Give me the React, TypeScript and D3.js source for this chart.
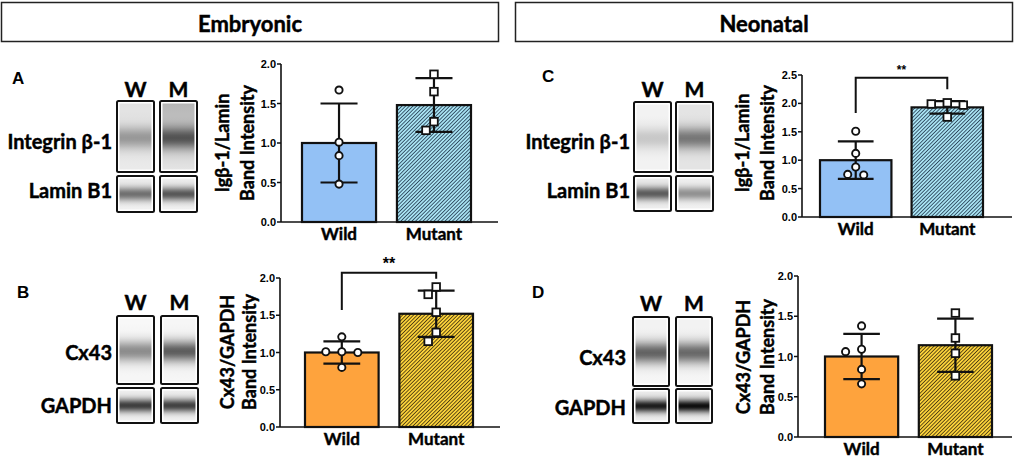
import React from "react";
import * as d3 from "d3";

// ---------- data ----------
const categories = ["Wild", "Mutant"];
const laneLabels = ["W", "M"];
const headers = ["Embryonic", "Neonatal"];
const panelLetters = ["A", "B", "C", "D"];

const aWildPoints = [1.67, 1.01, 0.84, 0.48];
const aMutantPoints = [1.87, 1.65, 1.27, 1.16];
const aMeans = [1.0, 1.48];
const aSD = [0.5, 0.34];

const bWildPoints = [1.21, 1.01, 1.01, 1.0, 0.8];
const bMutantPoints = [1.88, 1.78, 1.54, 1.27, 1.15];
const bMeans = [1.0, 1.52];
const bSD = [0.15, 0.31];

const cWildPoints = [1.51, 1.12, 0.88, 0.75, 0.74];
const cMutantPoints = [2.01, 1.99, 1.97, 1.76];
const cMeans = [1.0, 1.93];
const cSD = [0.33, 0.11];

const dWildPoints = [1.38, 1.09, 1.06, 0.84, 0.66];
const dMutantPoints = [1.54, 1.23, 1.04, 0.76];
const dMeans = [1.0, 1.14];
const dSD = [0.28, 0.33];

const yMax12 = 2.0;
const yMax3 = 2.5;
const tickStep = 0.5;

// significance brackets: [top, left foot, right foot]
const bBracket = [2.07, 1.57, 1.99];
const cBracket = [2.45, 1.83, 2.25];
const sigLabel = "**";

const integrinTitle = ["Igβ-1/Lamin", "Band Intensity"];
const cx43Title = ["Cx43/GAPDH", "Band Intensity"];
const integrinBlots = ["Integrin β-1", "Lamin B1"];
const cx43Blots = ["Cx43", "GAPDH"];

// blot grey levels per lane: [top, band, bottom]
const aTargetGray = [[226, 152, 234], [182, 82, 228]];
const aControlGray = [[238, 112, 242], [238, 88, 242]];
const bTargetGray = [[248, 140, 246], [246, 92, 246]];
const bControlGray = [[240, 62, 242], [240, 66, 242]];
const cTargetGray = [[242, 200, 242], [228, 118, 228]];
const cControlGray = [[236, 92, 240], [240, 145, 242]];
const dTargetGray = [[242, 98, 246], [242, 104, 246]];
const dControlGray = [[236, 28, 240], [236, 14, 240]];

// ---------- styles ----------
const FONT = "Lato, 'Open Sans', sans-serif";
const TICKFONT = "'Liberation Sans', Arial, sans-serif";
const BLUE = "#93c1f5";
const ORANGE = "#fea33d";
const boldStroke = { stroke: "#000", strokeWidth: 0.45, paintOrder: "stroke" } as const;

type Layout = {
  letterX: number; letterY: number;
  laneX: number[]; laneW: number; targetY: number[]; controlY: number[];
  laneY: number; labelRight: number; labelY: number[];
  axisX: number; axisEnd: number; y0: number; yTop: number;
  barRange: number[]; titleX: number[]; titleY: number;
};

type Panel = {
  id: string; letter: string; layout: Layout;
  means: number[]; sd: number[]; points: number[][]; yMax: number;
  title: string[]; blotLabels: string[];
  targetGray: number[][]; controlGray: number[][];
  bracket: number[] | null; fill: string; hatchId: string;
};

const panels: Panel[] = [
  {
    id: "a", letter: panelLetters[0],
    layout: { letterX: 12, letterY: 84, laneX: [117, 160], laneW: 37, targetY: [101, 172], controlY: [176, 212],
      laneY: 97, labelRight: 112, labelY: [149, 198], axisX: 281, axisEnd: 498, y0: 222, yTop: 64,
      barRange: [302, 471], titleX: [222, 247], titleY: 143 },
    means: aMeans, sd: aSD, points: [aWildPoints, aMutantPoints], yMax: yMax12,
    title: integrinTitle, blotLabels: integrinBlots, targetGray: aTargetGray, controlGray: aControlGray,
    bracket: null, fill: BLUE, hatchId: "hatchBlue",
  },
  {
    id: "b", letter: panelLetters[1],
    layout: { letterX: 17, letterY: 298, laneX: [117, 161], laneW: 37, targetY: [316, 384], controlY: [388, 423],
      laneY: 310, labelRight: 112, labelY: [360, 413], axisX: 280, axisEnd: 500, y0: 427, yTop: 278,
      barRange: [305, 473], titleX: [227, 249], titleY: 352 },
    means: bMeans, sd: bSD, points: [bWildPoints, bMutantPoints], yMax: yMax12,
    title: cx43Title, blotLabels: cx43Blots, targetGray: bTargetGray, controlGray: bControlGray,
    bracket: bBracket, fill: ORANGE, hatchId: "hatchOrange",
  },
  {
    id: "c", letter: panelLetters[2],
    layout: { letterX: 542, letterY: 82, laneX: [634, 676], laneW: 37, targetY: [102, 172], controlY: [176, 211],
      laneY: 97, labelRight: 630, labelY: [149, 198], axisX: 802, axisEnd: 1012, y0: 217, yTop: 75,
      barRange: [820, 983], titleX: [742, 767], titleY: 143 },
    means: cMeans, sd: cSD, points: [cWildPoints, cMutantPoints], yMax: yMax3,
    title: integrinTitle, blotLabels: integrinBlots, targetGray: cTargetGray, controlGray: cControlGray,
    bracket: cBracket, fill: BLUE, hatchId: "hatchBlue",
  },
  {
    id: "d", letter: panelLetters[3],
    layout: { letterX: 532, letterY: 298, laneX: [633, 676], laneW: 36, targetY: [317, 386], controlY: [389, 423],
      laneY: 311, labelRight: 626, labelY: [365, 415], axisX: 798, axisEnd: 1012, y0: 437, yTop: 276,
      barRange: [825, 992], titleX: [743, 767], titleY: 357 },
    means: dMeans, sd: dSD, points: [dWildPoints, dMutantPoints], yMax: yMax12,
    title: cx43Title, blotLabels: cx43Blots, targetGray: dTargetGray, controlGray: dControlGray,
    bracket: null, fill: ORANGE, hatchId: "hatchOrange",
  },
];

function grayStops(g: number[], center: number, sigma: number) {
  const [top, band, bottom] = g;
  return d3.range(0, 1.0001, 0.04).map((t) => {
    const base = top + (bottom - top) * t;
    const w = Math.exp(-((t - center) ** 2) / (2 * sigma * sigma));
    const v = Math.round(base - (base - band) * w);
    return { offset: t, color: `rgb(${v},${v},${v})` };
  });
}

function swarm(values: number[], y: d3.ScaleLinear<number, number>, step: number, minDist: number) {
  const placed: { x: number; y: number }[] = [];
  return values.map((v) => {
    const py = y(v);
    const candidates = [0, -step, step, -2 * step, 2 * step];
    let off = 0;
    for (const c of candidates) {
      if (placed.every((p) => Math.hypot(p.x - c, p.y - py) >= minDist)) { off = c; break; }
    }
    placed.push({ x: off, y: py });
    return { v, off };
  });
}

function Blot({ p }: { p: Panel }) {
  const L = p.layout;
  const rows = [
    { y: L.targetY, gray: p.targetGray, center: 0.52, sigma: 0.12, key: "t" },
    { y: L.controlY, gray: p.controlGray, center: 0.5, sigma: 0.16, key: "c" },
  ];
  return (
    <g>
      <defs>
        {rows.map((r) =>
          r.gray.map((g, i) => (
            <linearGradient key={r.key + i} id={`g-${p.id}-${r.key}-${i}`} x1="0" x2="0" y1="0" y2="1">
              {grayStops(g, r.center, r.sigma).map((s, j) => (
                <stop key={j} offset={s.offset} stopColor={s.color} />
              ))}
            </linearGradient>
          ))
        )}
      </defs>
      {laneLabels.map((t, i) => (
        <text key={t} x={L.laneX[i] + L.laneW / 2} y={L.laneY} textAnchor="middle"
          fontFamily={FONT} fontWeight={700} fontSize={21} {...boldStroke}>{t}</text>
      ))}
      {rows.map((r) =>
        L.laneX.map((x, i) => (
          <g key={r.key + i}>
            <rect x={x} y={r.y[0]} width={L.laneW} height={r.y[1] - r.y[0]} fill="#fff"
              stroke="#111" strokeWidth={2} rx={1.5} />
            <rect x={x + 2.5} y={r.y[0] + 2.5} width={L.laneW - 5} height={r.y[1] - r.y[0] - 5}
              fill={`url(#g-${p.id}-${r.key}-${i})`} />
          </g>
        ))
      )}
      {p.blotLabels.map((t, i) => (
        <text key={t} x={L.labelRight} y={L.labelY[i]} textAnchor="end"
          fontFamily={FONT} fontWeight={700} fontSize={20} {...boldStroke}>{t}</text>
      ))}
    </g>
  );
}

function Chart({ p }: { p: Panel }) {
  const L = p.layout;
  const y = d3.scaleLinear().domain([0, p.yMax]).range([L.y0, L.yTop]);
  const x = d3.scaleBand<string>().domain(categories).range([L.barRange[0], L.barRange[1]])
    .paddingInner(0.22).paddingOuter(0);
  const bw = x.bandwidth();
  const ticks = d3.range(0, p.yMax + 0.001, tickStep);
  const fmt = d3.format(".1f");
  const cx = (c: string) => (x(c) as number) + bw / 2;
  const capW = bw * 0.5;
  return (
    <g>
      <text x={L.letterX} y={L.letterY} fontFamily={TICKFONT} fontWeight={700} fontSize={17}>{p.letter}</text>
      {/* axis titles */}
      {p.title.map((t, i) => (
        <text key={i} transform={`translate(${L.titleX[i]},${L.titleY}) rotate(-90)`} textAnchor="middle"
          dominantBaseline="central" fontFamily={FONT} fontWeight={700} fontSize={18} {...boldStroke}>{t}</text>
      ))}
      {/* bars */}
      {categories.map((c, i) => (
        <rect key={c} x={x(c)} y={y(p.means[i])} width={bw} height={L.y0 - y(p.means[i])}
          fill={i === 0 ? p.fill : `url(#${p.hatchId})`} stroke="#111" strokeWidth={2.2} />
      ))}
      {/* error bars */}
      {categories.map((c, i) => {
        const lo = y(p.means[i] - p.sd[i]);
        const hi = y(p.means[i] + p.sd[i]);
        return (
          <g key={c} stroke="#111" strokeWidth={2.2}>
            <line x1={cx(c)} x2={cx(c)} y1={lo} y2={hi} />
            <line x1={cx(c) - capW / 2} x2={cx(c) + capW / 2} y1={hi} y2={hi} />
            <line x1={cx(c) - capW / 2} x2={cx(c) + capW / 2} y1={lo} y2={lo} />
          </g>
        );
      })}
      {/* points */}
      {categories.map((c, i) =>
        swarm(p.points[i], y, 8, 9.5).map((pt, j) =>
          i === 0 ? (
            <circle key={c + j} cx={cx(c) + pt.off} cy={y(pt.v)} r={3.6} fill="#fff" stroke="#111" strokeWidth={1.9} />
          ) : (
            <rect key={c + j} x={cx(c) + pt.off - 3.8} y={y(pt.v) - 3.8} width={7.6} height={7.6}
              fill="#fff" stroke="#111" strokeWidth={1.8} />
          )
        )
      )}
      {/* axes */}
      <g fontFamily={TICKFONT} fontWeight={700} fontSize={11}>
        {ticks.map((t) => (
          <g key={t}>
            <line x1={L.axisX - 4} x2={L.axisX} y1={y(t)} y2={y(t)} stroke="#111" strokeWidth={1.5} />
            <text x={L.axisX - 5} y={y(t)} textAnchor="end" dominantBaseline="central">{fmt(t)}</text>
          </g>
        ))}
      </g>
      <line x1={L.axisX} x2={L.axisX} y1={L.y0} y2={y(p.yMax)} stroke="#111" strokeWidth={1.6} />
      <line x1={L.axisX} x2={L.axisEnd} y1={L.y0} y2={L.y0} stroke="#111" strokeWidth={1.6} />
      {categories.map((c) => (
        <text key={c} x={cx(c)} y={L.y0 + 18} textAnchor="middle" fontFamily={FONT} fontWeight={700}
          fontSize={17} {...boldStroke}>{c}</text>
      ))}
      {/* significance */}
      {p.bracket && (
        <g>
          <path d={`M${cx(categories[0])},${y(p.bracket[1])}V${y(p.bracket[0])}H${cx(categories[1])}V${y(p.bracket[2])}`}
            fill="none" stroke="#111" strokeWidth={2} />
          <text x={(cx(categories[0]) + cx(categories[1])) / 2} y={y(p.bracket[0]) - 4} textAnchor="middle"
            fontFamily={TICKFONT} fontWeight={700} fontSize={p.id === "c" ? 12 : 16}>{sigLabel}</text>
        </g>
      )}
    </g>
  );
}

export default function App() {
  return (
    <svg width={1021} height={458} style={{ position: "absolute", left: 0, top: 0, background: "#fff" }}>
      <defs>
        <pattern id="hatchBlue" patternUnits="userSpaceOnUse" width={2.6} height={2.6} patternTransform="rotate(45)">
          <rect width={2.6} height={2.6} fill="#a8e2f2" />
          <line x1={0} y1={0} x2={0} y2={2.6} stroke="#1b3148" strokeWidth={1.5} />
        </pattern>
        <pattern id="hatchOrange" patternUnits="userSpaceOnUse" width={2.6} height={2.6} patternTransform="rotate(45)">
          <rect width={2.6} height={2.6} fill="#fbd23a" />
          <line x1={0} y1={0} x2={0} y2={2.6} stroke="#35260a" strokeWidth={1.5} />
        </pattern>
      </defs>
      <rect width={1021} height={458} fill="#fff" />
      {headers.map((h, i) => (
        <g key={h}>
          <rect x={i === 0 ? 1.5 : 515.5} y={2.5} width={497} height={39} fill="#fff" stroke="#222" strokeWidth={1.5} />
          <text x={i === 0 ? 250 : 764} y={23} textAnchor="middle" dominantBaseline="central"
            fontFamily={FONT} fontWeight={700} fontSize={22} {...boldStroke}>{h}</text>
        </g>
      ))}
      {panels.map((p) => (
        <g key={p.id}>
          <Blot p={p} />
          <Chart p={p} />
        </g>
      ))}
    </svg>
  );
}
